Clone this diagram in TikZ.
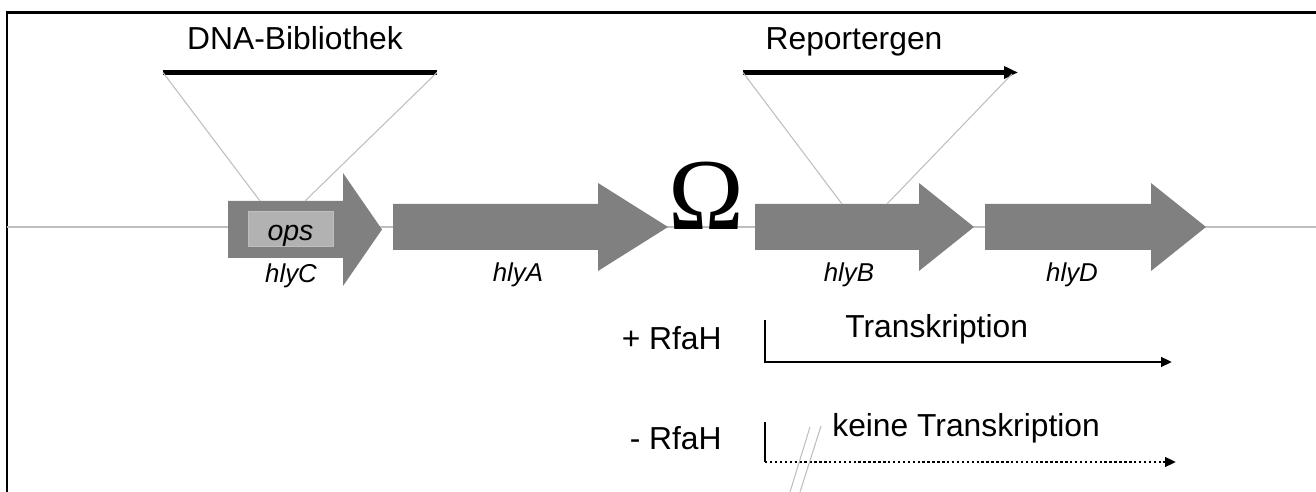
\documentclass[tikz,border=0pt]{standalone}
\usepackage{fontspec}
\setmainfont{Liberation Sans}
\newfontfamily\omegaschrift{Liberation Serif}
\usepackage{tikz}
\usetikzlibrary{arrows.meta}
\definecolor{genGrau}{RGB}{128,128,128}
\definecolor{opsGrau}{RGB}{178,178,178}
\definecolor{linieGrau}{RGB}{190,190,190}
\tikzset{
  rahmen/.style={line width=1.7pt, black},
  achse/.style={line width=0.9pt, linieGrau},
  gen/.style={fill=genGrau},
  opsbox/.style={rectangle, draw=linieGrau, fill=opsGrau, line width=0.5pt,
                 minimum width=1.7cm, minimum height=0.7cm, inner sep=0pt},
  genname/.style={font=\fontsize{14.7}{16}\selectfont\itshape, anchor=base, inner sep=0pt},
  titel/.style={font=\fontsize{18.1}{20}\selectfont, anchor=base, inner sep=0pt},
  balken/.style={line width=2.4pt, black},
  trichter/.style={line width=0.6pt, linieGrau},
  pfeil/.style={-{Triangle[length=0.22cm, width=0.19cm]}, line width=1.5pt},
}
\begin{document}
\begin{tikzpicture}[x=0.02cm, y=-0.02cm]
  \useasboundingbox (0,0) rectangle (1316,492);
  \draw[rahmen] (7,492) -- (7,13) -- (1316,13);
  \draw[achse] (7,227) -- (1316,227);
  % Gene
  \fill[gen] (228,201) -- (343,201) -- (343,173) -- (382,229.5) -- (343,286) -- (343,258) -- (228,258) -- cycle;
  \fill[gen] (393,204) -- (598,204) -- (598,183) -- (668,227) -- (598,271) -- (598,250) -- (393,250) -- cycle;
  \fill[gen] (755,204) -- (919,204) -- (919,183) -- (974,227) -- (919,271) -- (919,250) -- (755,250) -- cycle;
  \fill[gen] (985,204) -- (1151,204) -- (1151,183) -- (1206,227) -- (1151,271) -- (1151,250) -- (985,250) -- cycle;
  \node[opsbox] (ops) at (290.5,228.5) {};
  \node[genname, font=\fontsize{16.2}{18}\selectfont\itshape] (opsText) at (290.5,240.5) {ops};
  \node[genname] (hlyC) at (291,283) {hlyC};
  \node[genname] (hlyA) at (518,282) {hlyA};
  \node[genname] (hlyB) at (849,282) {hlyB};
  \node[genname] (hlyD) at (1072,282) {hlyD};
  \node[anchor=base, inner sep=0pt, font=\omegaschrift\fontsize{58}{60}\selectfont] (omega) at (706,230) {Ω};
  % Insertionen
  \coordinate (dnaL) at (163,72.5);
  \coordinate (dnaR) at (437,72.5);
  \coordinate (opsL) at (260,201);
  \coordinate (opsR) at (305,201);
  \draw[balken] (dnaL) -- (dnaR);
  \node[titel] (dna) at (295,50) {DNA-Bibliothek};
  \draw[trichter] (dnaL) -- (opsL);
  \draw[trichter] (dnaR) -- (opsR);
  \coordinate (repL) at (743,72.5);
  \coordinate (repR) at (1018,72.5);
  \coordinate (repZ) at (1012,74);
  \coordinate (hlyBL) at (842,204);
  \coordinate (hlyBR) at (887,204);
  \draw[balken, -{Triangle[length=0.28cm, width=0.24cm]}] (repL) -- (repR);
  \node[titel] (rep) at (854,50) {Reportergen};
  \draw[trichter] (repL) -- (hlyBL);
  \draw[trichter] (repZ) -- (hlyBR);
  % Transkription
  \node[titel, anchor=base east] (plus) at (722,350) {+ RfaH};
  \coordinate (plusA) at (765,320);
  \coordinate (plusK) at (765,362);
  \coordinate (plusE) at (1172,362);
  \draw[pfeil] (plusA) -- (plusK) -- (plusE);
  \node[titel, anchor=base west] (trans) at (845,338) {Transkription};
  \node[titel, anchor=base east] (minus) at (722,450) {- RfaH};
  \coordinate (minusA) at (765,422);
  \coordinate (minusK) at (765,462);
  \coordinate (minusE) at (1176,462);
  \draw[line width=1.5pt] (minusA) -- (minusK);
  \draw[pfeil, dash pattern=on 1.4pt off 1.4pt] (minusK) -- (minusE);
  \node[titel, anchor=base west] (keine) at (832,437) {keine Transkription};
  \draw[trichter] (810,427) -- (790,492);
  \draw[trichter] (821,426) -- (800,492);
\end{tikzpicture}
\end{document}
